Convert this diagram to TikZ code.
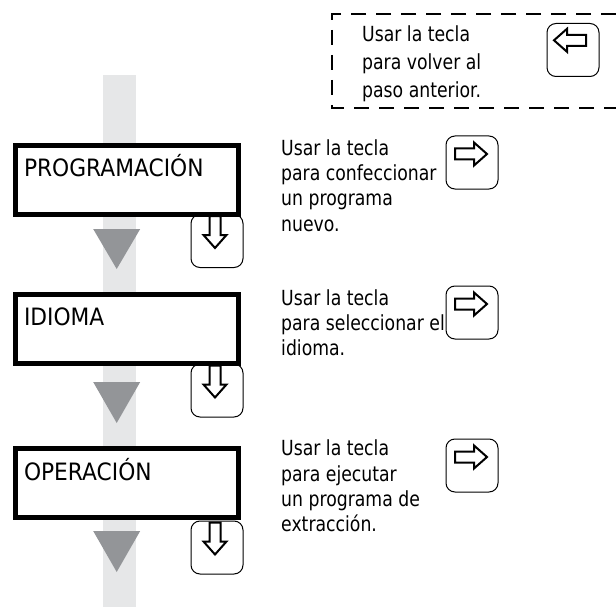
\documentclass[tikz,border=0pt]{standalone}
\usepackage{fontspec}
\newfontfamily\stepfont[FakeStretch=0.91]{DejaVu Sans}
\newfontfamily\notefont[FakeStretch=0.83]{DejaVu Sans}
\usepackage{tikz}
\definecolor{railgray}{HTML}{E6E7E8}
\definecolor{flowgray}{HTML}{939598}
\usetikzlibrary{positioning}
\tikzstyle{stepbox}=[draw, fill=white, line width=5pt, minimum width=223pt, minimum height=69pt, inner xsep=8.8pt, text width=205.4pt, align=left, text height=12pt, text depth=18pt, font={\stepfont\fontsize{23.9}{28}\selectfont}]
\tikzstyle{keybox}=[draw, line width=1pt, rounded corners=9pt, minimum width=52pt, minimum height=53pt, inner sep=0pt]
\tikzstyle{note}=[anchor=north west, inner sep=0pt, align=left, font={\notefont\fontsize{20.8}{25.3}\selectfont}]
\tikzstyle{flow}=[fill=flowgray]
\tikzstyle{backframe}=[line width=2.7pt, dash pattern=on 15pt off 10pt]
\tikzset{keyarrow/.pic={\draw[line width=2pt, line join=miter] (0,-5.5) -- (19,-5.5) -- (19,-11.5) -- (32,0) -- (19,11.5) -- (19,5.5) -- (0,5.5) -- cycle;}}

\begin{document}
\begin{tikzpicture}[x=1pt, y=-1pt]

    \useasboundingbox (0,0) rectangle (616,607);

    \fill[railgray] (103,75) rectangle (135.5,607);
    \fill[flow] (93.2,229) -- (140.2,229) -- (116.7,269) -- cycle;
    \fill[flow] (93.2,382) -- (140.2,382) -- (116.7,423) -- cycle;
    \fill[flow] (93.2,531) -- (140.2,531) -- (116.7,572) -- cycle;

    \draw[backframe] (616,14) -- (332,14) -- (332,108) -- (616,108);
    \node[note, font={\notefont\fontsize{20.8}{28}\selectfont}] (backnote) at (362,25) {Usar la tecla\\para volver al\\paso anterior.};
    \node[keybox] (backkey) at (573,50) {};
    \pic[rotate=180] at ([shift={(13,-9.7)}]backkey.center) {keyarrow};

    \node[keybox] (progdown) at (217,241) {};
    \pic[rotate=-90] at ([shift={(-2,-25)}]progdown.center) {keyarrow};
    \node[keybox] (idiomadown) at (217,390.5) {};
    \pic[rotate=-90] at ([shift={(-2,-25)}]idiomadown.center) {keyarrow};
    \node[keybox] (operdown) at (217,547.5) {};
    \pic[rotate=-90] at ([shift={(-2,-25)}]operdown.center) {keyarrow};

    \node[stepbox] (prog) at (126.7,180) {PROGRAMACIÓN};
    \node[stepbox] (idioma) at (126.7,328.5) {IDIOMA};
    \node[stepbox] (oper) at (126.7,483) {OPERACIÓN};

    \node[note] (prognote) at (281,139.2) {Usar la tecla\\para confeccionar\\un programa\\nuevo.};
    \node[keybox] (progkey) at (472,162.5) {};
    \pic at ([shift={(-17,-8.5)}]progkey.center) {keyarrow};

    \node[note] (idiomanote) at (281,289.2) {Usar la tecla\\para seleccionar el\\idioma.};
    \node[keybox] (idiomakey) at (472,312.5) {};
    \pic at ([shift={(-17,-8.5)}]idiomakey.center) {keyarrow};

    \node[note] (opernote) at (281,439.7) {Usar la tecla\\para ejecutar\\un programa de\\extracción.};
    \node[keybox] (operkey) at (472,465.5) {};
    \pic at ([shift={(-17,-8.5)}]operkey.center) {keyarrow};

\end{tikzpicture}
\end{document}
